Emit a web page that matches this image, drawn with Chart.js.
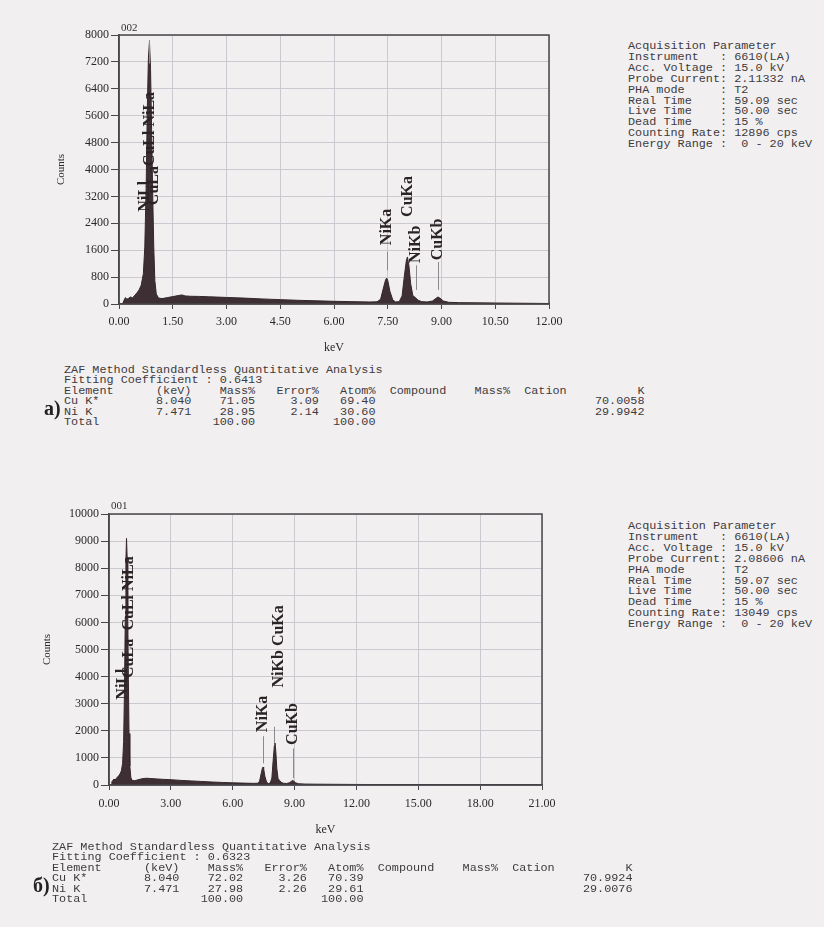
<!DOCTYPE html>
<html>
<head>
<meta charset="utf-8">
<script src="https://cdn.jsdelivr.net/npm/chart.js@4.4.0/dist/chart.umd.min.js"></script>
<style>
    html, body { margin: 0; padding: 0; }
    body { width: 824px; height: 927px; background: #f2eff1; position: relative; overflow: hidden; font-family: "Liberation Serif", serif; }
    canvas { position: absolute; left: 0; }
    #chartA { top: 0; }
    #chartB { top: 470px; }
    pre.mono { position: absolute; margin: 0; font-family: "Liberation Mono", monospace; font-size: 11.8px; color: #3e3b3d; }
    .acq { line-height: 10.9px; }
    .zaf { line-height: 10.4px; }
    .tag { position: absolute; font-size: 11px; color: #333; }
    .panel { position: absolute; font-weight: bold; font-size: 20px; color: #222; }
</style>
</head>
<body>

<canvas id="chartA" width="600" height="360"></canvas>
<canvas id="chartB" width="600" height="380"></canvas>

<div class="tag" style="left:121px; top:21px;">002</div>
<div class="tag" style="left:111px; top:499px;">001</div>

<pre class="mono acq" style="left:628px; top:41px;">Acquisition Parameter
Instrument   : 6610(LA)
Acc. Voltage : 15.0 kV
Probe Current: 2.11332 nA
PHA mode     : T2
Real Time    : 59.09 sec
Live Time    : 50.00 sec
Dead Time    : 15 %
Counting Rate: 12896 cps
Energy Range :  0 - 20 keV</pre>

<pre class="mono acq" style="left:628px; top:521px;">Acquisition Parameter
Instrument   : 6610(LA)
Acc. Voltage : 15.0 kV
Probe Current: 2.08606 nA
PHA mode     : T2
Real Time    : 59.07 sec
Live Time    : 50.00 sec
Dead Time    : 15 %
Counting Rate: 13049 cps
Energy Range :  0 - 20 keV</pre>

<pre class="mono zaf" style="left:64px; top:365px;">ZAF Method Standardless Quantitative Analysis
Fitting Coefficient : 0.6413
Element      (keV)    Mass%   Error%   Atom%  Compound    Mass%  Cation          K
Cu K*        8.040    71.05     3.09   69.40                               70.0058
Ni K         7.471    28.95     2.14   30.60                               29.9942
Total                100.00           100.00</pre>

<pre class="mono zaf" style="left:52px; top:842px;">ZAF Method Standardless Quantitative Analysis
Fitting Coefficient : 0.6323
Element      (keV)    Mass%   Error%   Atom%  Compound    Mass%  Cation          K
Cu K*        8.040    72.02     3.26   70.39                               70.9924
Ni K         7.471    27.98     2.26   29.61                               29.0076
Total                100.00           100.00</pre>

<div class="panel" style="left:44px; top:397px;">a)</div>
<div class="panel" style="left:33px; top:874px;">б)</div>

<script>
    "use strict";

    // Spectrum a) (sample 002): energy in keV, counts
    var energyA = [0.10, 0.14, 0.18, 0.22, 0.27, 0.32, 0.38, 0.44, 0.50, 0.56,
                   0.62, 0.68, 0.72, 0.76, 0.79, 0.82, 0.85, 0.88, 0.91, 0.94,
                   0.97, 1.00, 1.04, 1.10, 1.20, 1.35, 1.50, 1.65, 1.75, 1.85,
                   2.00, 2.25, 2.50, 2.75, 3.00, 3.50, 4.00, 4.50, 5.00, 5.50,
                   6.00, 6.50, 7.00, 7.20, 7.30, 7.38, 7.44, 7.47, 7.50, 7.56,
                   7.64, 7.72, 7.82, 7.90, 7.96, 8.02, 8.05, 8.09, 8.14, 8.20,
                   8.27, 8.35, 8.45, 8.60, 8.75, 8.85, 8.90, 8.95, 9.05, 9.20,
                   9.50, 10.0, 10.5, 11.0, 11.5, 12.0];
    var countsA = [0, 110, 190, 140, 170, 210, 180, 260, 330, 420,
                   560, 900, 1700, 3600, 5800, 7300, 7800, 7000, 5200, 3300,
                   1700, 700, 300, 180, 160, 190, 220, 250, 270, 240,
                   230, 225, 215, 205, 195, 175, 150, 130, 110, 95,
                   80, 70, 60, 65, 140, 480, 720, 770, 700, 380,
                   120, 60, 70, 240, 800, 1300, 1400, 1150, 600, 250,
                   190, 110, 70, 60, 90, 170, 210, 180, 90, 50,
                   40, 35, 30, 25, 20, 15];

    // Spectrum б) (sample 001)
    var energyB = [0.10, 0.14, 0.18, 0.24, 0.30, 0.36, 0.42, 0.48, 0.54, 0.60,
                   0.66, 0.71, 0.75, 0.79, 0.82, 0.85, 0.88, 0.91, 0.94, 0.97,
                   1.01, 1.06, 1.12, 1.25, 1.40, 1.60, 1.80, 2.00, 2.30, 2.60,
                   3.00, 3.50, 4.00, 4.50, 5.00, 5.50, 6.00, 6.50, 7.00, 7.20,
                   7.30, 7.38, 7.44, 7.47, 7.50, 7.56, 7.64, 7.72, 7.82, 7.90,
                   7.96, 8.02, 8.05, 8.09, 8.14, 8.20, 8.27, 8.35, 8.45, 8.60,
                   8.75, 8.85, 8.90, 8.95, 9.05, 9.20, 9.50, 10.0, 11.0, 12.0,
                   13.5, 15.0, 16.5, 18.0, 19.5, 21.0];
    var countsB = [0, 120, 160, 220, 180, 250, 300, 350, 420, 520,
                   800, 1600, 3500, 6200, 8300, 9100, 8400, 6300, 3900, 1900,
                   700, 280, 170, 160, 190, 230, 250, 240, 225, 210,
                   195, 170, 150, 130, 110, 95, 80, 70, 60, 65,
                   130, 420, 620, 660, 600, 320, 110, 55, 70, 260,
                   900, 1450, 1550, 1250, 600, 240, 170, 100, 65, 55,
                   80, 140, 170, 150, 80, 45, 35, 30, 25, 20,
                   15, 12, 10, 8, 6, 5];

    // Peak identification labels (name, energy keV, count where the label starts)
    var peakNamesA = ["NiLl", "CuLl NiLa", "CuLa", "NiKa", "CuKa", "NiKb", "CuKb"];
    var peakKevA   = [0.73, 0.87, 0.98, 7.47, 8.05, 8.29, 8.90];
    var peakAtA    = [2740, 4100, 2940, 1750, 2590, 1220, 1300];
    var markKevA   = [0.83, 7.47, 8.29, 8.90];
    var markTopA   = [7850, 1550, 1150, 1250];
    var markLowA   = [7150, 1000, 420, 420];

    var peakNamesB = ["NiLl", "CuLa", "CuLl NiLa", "NiKa", "NiKb CuKa", "CuKb"];
    var peakKevB   = [0.65, 0.95, 0.95, 7.47, 8.26, 8.92];
    var peakAtB    = [3150, 3950, 5700, 1950, 3600, 1480];
    var markKevB   = [7.47, 8.02, 8.92];
    var markTopB   = [1800, 2150, 1350];
    var markLowB   = [800, 1550, 250];

    // Axis ticks
    var xStepA = 1.5, xMaxA = 12, yStepA = 800, yMaxA = 8000;
    var xStepB = 3, xMaxB = 21, yStepB = 1000, yMaxB = 10000;


    // Peak labels, marker lines and plot frame
    var peakLabels = {
        id: "peakLabels",
        afterDatasetsDraw: function (chart, args, opts) {
            var ctx = chart.ctx, area = chart.chartArea;
            var x = chart.scales.x, y = chart.scales.y;
            ctx.save();

            ctx.strokeStyle = "#8c8a8e";
            ctx.lineWidth = 1;
            opts.markKev.forEach(function (k, i) {
                var px = Math.round(x.getPixelForValue(k)) + 0.5;
                ctx.beginPath();
                ctx.moveTo(px, y.getPixelForValue(opts.markTop[i]));
                ctx.lineTo(px, y.getPixelForValue(opts.markLow[i]));
                ctx.stroke();
            });

            ctx.fillStyle = "#2b2427";
            ctx.font = "bold 16px 'Liberation Serif'";
            ctx.textAlign = "left";
            ctx.textBaseline = "middle";
            opts.names.forEach(function (t, i) {
                ctx.save();
                ctx.translate(x.getPixelForValue(opts.kev[i]), y.getPixelForValue(opts.at[i]));
                ctx.rotate(-Math.PI / 2);
                ctx.fillText(t, 0, 0);
                ctx.restore();
            });

            ctx.strokeStyle = "#4a474b";
            ctx.lineWidth = 1.5;
            ctx.strokeRect(area.left, area.top, area.right - area.left, area.bottom - area.top);
            ctx.restore();
        }
    };

    var tickFont = { family: "'Liberation Serif', serif", size: 12 };

    function spectrumOptions(o) {
        return {
            responsive: false,
            animation: false,
            events: [],
            layout: { padding: { left: 0, top: o.top, right: o.right, bottom: 0 } },
            plugins: {
                legend: { display: false },
                tooltip: { enabled: false },
                peakLabels: o.labels
            },
            scales: {
                x: {
                    type: "linear",
                    min: 0,
                    max: o.xMax,
                    afterFit: function (s) { s.height = o.xHeight; },
                    ticks: {
                        stepSize: o.xStep,
                        autoSkip: false,
                        maxRotation: 0,
                        padding: o.xPad,
                        color: "#2a2a2a",
                        font: tickFont,
                        callback: function (v) { return v.toFixed(2); }
                    },
                    grid: { color: "#cbc9cf", tickColor: "#4a474b", tickLength: 5 },
                    border: { color: "#4a474b", width: 1.5 },
                    title: { display: true, text: "keV", color: "#2a2a2a", font: tickFont, padding: { top: 0, bottom: o.keVPad } }
                },
                y: {
                    min: 0,
                    max: o.yMax,
                    afterFit: function (s) { s.width = o.yWidth; },
                    ticks: {
                        stepSize: o.yStep,
                        autoSkip: false,
                        padding: 2,
                        color: "#2a2a2a",
                        font: tickFont,
                        callback: function (v) { return String(v); }
                    },
                    grid: { color: "#cbc9cf", tickColor: "#4a474b", tickLength: 8 },
                    border: { color: "#4a474b", width: 1.5 },
                    title: { display: true, text: "Counts", color: "#2a2a2a", font: { family: "'Liberation Serif', serif", size: 11 }, padding: { top: o.countsPad, bottom: 0 } }
                }
            }
        };
    }

    function spectrumData(xs, ys) {
        return {
            datasets: [{
                data: xs.map(function (e, i) { return { x: e, y: ys[i] }; }),
                showLine: true,
                fill: "origin",
                pointRadius: 0,
                borderWidth: 1,
                borderColor: "#33272b",
                backgroundColor: "#3d2f33"
            }]
        };
    }


    // Chart a)
    new Chart(document.getElementById("chartA"), {
        type: "scatter",
        data: spectrumData(energyA, countsA),
        plugins: [peakLabels],
        options: spectrumOptions({
            top: 35, right: 51, xHeight: 56, yWidth: 119,
            xMax: xMaxA, xStep: xStepA, yMax: yMaxA, yStep: yStepA,
            xPad: 6, keVPad: 5, countsPad: 55,
            labels: { names: peakNamesA, kev: peakKevA, at: peakAtA, markKev: markKevA, markTop: markTopA, markLow: markLowA }
        })
    });


    // Chart б)
    new Chart(document.getElementById("chartB"), {
        type: "scatter",
        data: spectrumData(energyB, countsB),
        plugins: [peakLabels],
        options: spectrumOptions({
            top: 44, right: 58, xHeight: 65, yWidth: 109,
            xMax: xMaxB, xStep: xStepB, yMax: yMaxB, yStep: yStepB,
            xPad: 7, keVPad: 13, countsPad: 41,
            labels: { names: peakNamesB, kev: peakKevB, at: peakAtB, markKev: markKevB, markTop: markTopB, markLow: markLowB }
        })
    });
</script>
</body>
</html>
